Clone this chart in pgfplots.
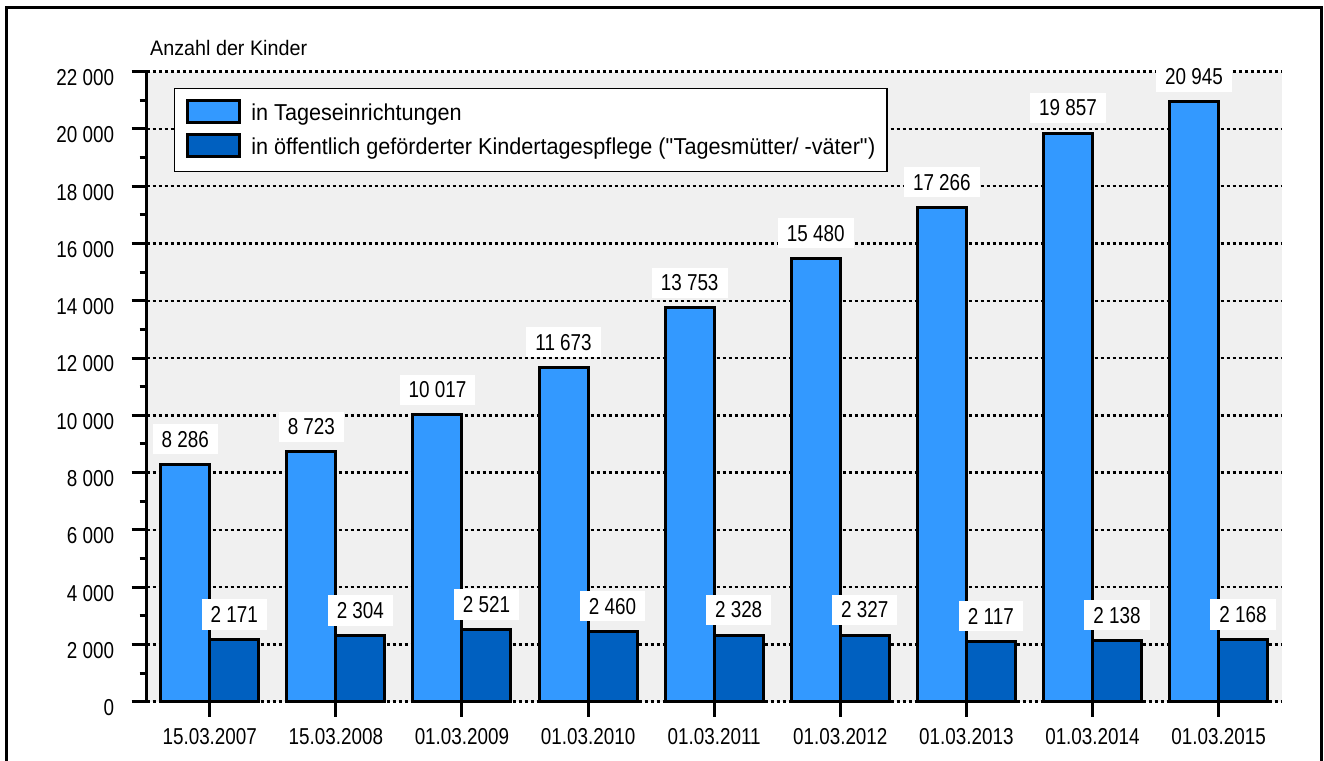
\documentclass[border=0pt]{standalone}
\usepackage{fontspec}
\setmainfont{Liberation Sans}[FakeStretch=0.94]
\newfontfamily\numfamily{Liberation Sans}[FakeStretch=0.82]
\usepackage{pgfplots}
\pgfplotsset{compat=1.18}
\definecolor{hell}{HTML}{3399FF}
\definecolor{dunkel}{HTML}{0060C0}
\definecolor{hinter}{HTML}{F0F0F0}
\newcommand\numfont{\numfamily\fontsize{23bp}{27bp}\selectfont}
\newcommand\txtfont{\fontsize{23bp}{27bp}\selectfont}

\begin{document}
\begin{tikzpicture}[x=1bp,y=1bp]
\useasboundingbox (0,0) rectangle (1324,760);
\draw[line width=3bp] (6.7,-5) -- (6.7,752.7) -- (1321.7,752.7) -- (1321.7,-5);
\begin{axis}[
  at={(146.7bp,58.3bp)}, anchor=south west,
  scale only axis, width=1135bp, height=630bp,
  xmin=-0.5, xmax=8.5, ymin=0, ymax=22000,
  xtick={0,...,8},
  xticklabels={15.03.2007,15.03.2008,01.03.2009,01.03.2010,01.03.2011,01.03.2012,01.03.2013,01.03.2014,01.03.2015},
  ytick distance=2000, minor y tick num=1,
  scaled y ticks=false,
  /pgf/number format/1000 sep={\ },
  /pgf/number format/assume math mode=true,
  tick pos=left, tick align=outside,
  major tick length=15bp, minor tick length=7bp,
  tick style={black, line width=3bp},
  ymajorgrids,
  major grid style={black, line width=2.5bp, dash pattern=on 3bp off 3bp},
  axis line style={draw=none},
  axis background/.style={fill=hinter},
  clip=false,
  ticklabel style={font=\numfont},
  yticklabel style={xshift=-14bp, yshift=-6bp},
  xticklabel style={yshift=-8bp},
  ylabel={Anzahl der Kinder},
  every axis y label/.style={at={(axis description cs:0,1)}, anchor=base west, yshift=15.7bp, font=\fontsize{21bp}{25bp}\selectfont},
  ybar, bar width=49bp,
  nodes near coords,
  every node near coord/.append style={font=\numfont, fill=white, inner xsep=9bp, inner ysep=7bp, anchor=south, yshift=8.5bp},
  reverse legend,
  legend image code/.code={\draw[#1, line width=2.5bp] (0bp,-9.5bp) rectangle (52bp,12.5bp);},
  legend cell align=left,
  legend style={at={(axis description cs:0.02405,0.9741)}, anchor=north west,
    draw=black, line width=1.2bp, fill=white, font=\txtfont,
    inner xsep=11.6bp, inner ysep=10.4bp, column sep=10.7bp, row sep=6bp,
    nodes={inner sep=0pt, text height=22bp, text depth=6bp}},
]
\addplot[draw=black, fill=dunkel, line width=3bp, bar shift=24.5bp] coordinates {
(0,2171) (1,2304) (2,2521) (3,2460) (4,2328) (5,2327) (6,2117) (7,2138) (8,2168)
};
\addlegendentry{in öffentlich geförderter Kindertagespflege (\textquotedbl Tagesmütter/ -väter\textquotedbl)}
\addplot[draw=black, fill=hell, line width=3bp, bar shift=-24.5bp] coordinates {
(0,8286) (1,8723) (2,10017) (3,11673) (4,13753) (5,15480) (6,17266) (7,19857) (8,20945)
};
\addlegendentry{in Tageseinrichtungen}
\draw[line width=3bp] (axis cs:-0.5,0) -- (axis cs:-0.5,22000);
\end{axis}
\end{tikzpicture}
\end{document}
